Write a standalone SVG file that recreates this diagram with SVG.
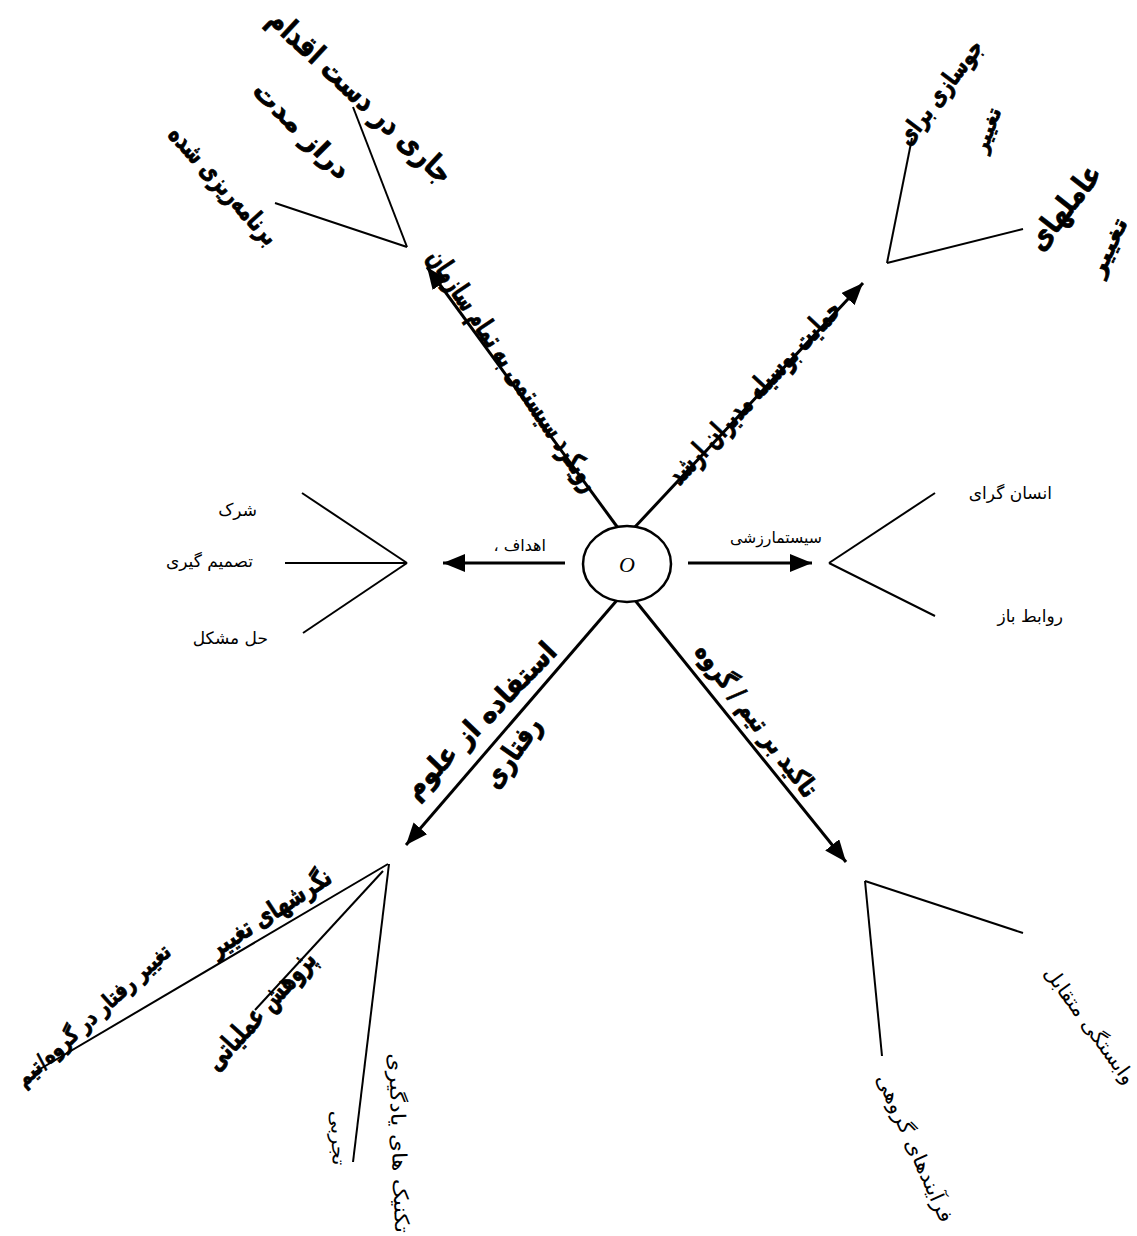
<svg xmlns="http://www.w3.org/2000/svg" width="1137" height="1236" viewBox="0 0 1137 1236">
<style>
.bg{fill:#fff}
.ln{stroke:#000;stroke-width:2;fill:none}
.ar{stroke:#000;stroke-width:3;fill:none;marker-end:url(#ah)}
.b{font-family:"DejaVu Sans",sans-serif;font-weight:bold;fill:#000;stroke:#000;stroke-width:0.8;text-anchor:middle}
.r{font-family:"DejaVu Sans",sans-serif;fill:#000}
.rm{font-family:"DejaVu Sans",sans-serif;fill:#000;text-anchor:middle}
</style>
<defs>
<marker id="ah" markerUnits="userSpaceOnUse" markerWidth="22" markerHeight="18" viewBox="0 0 22 18" refX="22" refY="9" orient="auto">
<path d="M0,0 L22,9 L0,18 z" fill="#000"/>
</marker>
</defs>
<rect class="bg" x="0" y="0" width="1137" height="1236"/>

<g id="connectors">
<line class="ar" x1="618" y1="528" x2="427" y2="267"/>
<line class="ar" x1="634" y1="528" x2="863" y2="283"/>
<line class="ar" x1="565" y1="563" x2="443" y2="563"/>
<line class="ar" x1="688" y1="563" x2="812" y2="563"/>
<line class="ar" x1="618" y1="599" x2="406" y2="845"/>
<line class="ar" x1="634" y1="599" x2="846" y2="862"/>
<text class="b" font-size="28" textLength="285" lengthAdjust="spacingAndGlyphs" dy="0.35em" transform="translate(514,370) rotate(56)">رویکرد سیستمی به تمام سازمان</text>
<text class="b" font-size="28" textLength="240" lengthAdjust="spacingAndGlyphs" dy="0.35em" transform="translate(754,392) rotate(-47)">حمایت بوسیله مدیران ارشد</text>
<text class="r" font-size="16" text-anchor="end" x="546" y="551">اهداف ،&#x200F;</text>
<text class="r" font-size="16" text-anchor="end" x="822" y="543" textLength="92" lengthAdjust="spacingAndGlyphs">سیستمارزشی</text>
<text class="b" font-size="28" textLength="205" lengthAdjust="spacingAndGlyphs" dy="0.35em" transform="translate(480,720) rotate(-46)">استفاده از علوم</text>
<text class="b" font-size="28" textLength="80" lengthAdjust="spacingAndGlyphs" dy="0.35em" transform="translate(512,752) rotate(-55)">رفتاری</text>
<text class="b" font-size="26" textLength="185" lengthAdjust="spacingAndGlyphs" dy="0.35em" transform="translate(757,720) rotate(53)">تاکید بر تیم / گروه</text>
</g>

<g id="node-center">
<ellipse cx="627" cy="564" rx="44" ry="38" fill="#fff" stroke="#000" stroke-width="2.5"/>
<text x="627" y="572" font-family="Liberation Serif, serif" font-style="italic" font-size="22" text-anchor="middle">O</text>
</g>

<g id="node-top-left">
<line class="ln" x1="407" y1="247" x2="353" y2="107"/>
<line class="ln" x1="407" y1="247" x2="275" y2="203"/>
<text class="b" font-size="30" textLength="240" lengthAdjust="spacingAndGlyphs" dy="0.35em" transform="translate(361,96) rotate(43)">جاری در دست اقدام</text>
<text class="b" font-size="26" textLength="125" lengthAdjust="spacingAndGlyphs" dy="0.35em" transform="translate(302,130) rotate(45)">دراز مدت</text>
<text class="b" font-size="26" textLength="150" lengthAdjust="spacingAndGlyphs" dy="0.35em" transform="translate(224,185) rotate(48)">برنامه‌ریزی شده</text>
</g>

<g id="node-top-right">
<line class="ln" x1="887" y1="263" x2="912" y2="138"/>
<line class="ln" x1="887" y1="263" x2="1023" y2="229"/>
<text class="b" font-size="24" textLength="125" lengthAdjust="spacingAndGlyphs" dy="0.35em" transform="translate(940,92) rotate(-53)">جوسازی برای</text>
<text class="b" font-size="20" textLength="46" lengthAdjust="spacingAndGlyphs" dy="0.35em" transform="translate(987,130) rotate(-70)">تغییر</text>
<text class="b" font-size="30" textLength="100" lengthAdjust="spacingAndGlyphs" dy="0.35em" transform="translate(1064,207) rotate(-52)">عاملهای</text>
<text class="b" font-size="22" textLength="62" lengthAdjust="spacingAndGlyphs" dy="0.35em" transform="translate(1108,247) rotate(-65)">تغییر</text>
</g>

<g id="node-left">
<line class="ln" x1="407" y1="563" x2="302" y2="493"/>
<line class="ln" x1="407" y1="563" x2="285" y2="563"/>
<line class="ln" x1="407" y1="563" x2="303" y2="633"/>
<text class="r" font-size="17" text-anchor="end" x="257" y="516">شرک</text>
<text class="r" font-size="17" text-anchor="end" x="253" y="567">تصمیم گیری</text>
<text class="r" font-size="17" text-anchor="end" x="268" y="644">حل مشکل</text>
</g>

<g id="node-right">
<line class="ln" x1="829" y1="563" x2="935" y2="493"/>
<line class="ln" x1="829" y1="563" x2="935" y2="616"/>
<text class="r" font-size="17" text-anchor="end" x="1052" y="499">انسان گرای</text>
<text class="r" font-size="17" text-anchor="end" x="1063" y="622">روابط باز</text>
</g>

<g id="node-bottom-left">
<line class="ln" x1="388" y1="864" x2="35" y2="1072"/>
<line class="ln" x1="383" y1="871" x2="255" y2="1010"/>
<line class="ln" x1="389" y1="864" x2="353" y2="1162"/>
<text class="b" font-size="26" textLength="140" lengthAdjust="spacingAndGlyphs" dy="0.35em" transform="translate(270,912) rotate(-33)">نگرشهای تغییر</text>
<text class="b" font-size="22" textLength="200" lengthAdjust="spacingAndGlyphs" dy="0.35em" transform="translate(93,1015) rotate(-42)">تغییر رفتار در گروه/تیم</text>
<text class="b" font-size="28" textLength="150" lengthAdjust="spacingAndGlyphs" dy="0.35em" transform="translate(260,1010) rotate(-48)">پژوهش عملیاتی</text>
<text class="rm" font-size="20" textLength="180" lengthAdjust="spacingAndGlyphs" dy="0.35em" transform="translate(399,1143) rotate(88)">تکنیک های یادگیری</text>
<text class="rm" font-size="18" textLength="55" lengthAdjust="spacingAndGlyphs" dy="0.35em" transform="translate(338,1138) rotate(88)">تجربی</text>
</g>

<g id="node-bottom-right">
<line class="ln" x1="865" y1="881" x2="1023" y2="933"/>
<line class="ln" x1="865" y1="881" x2="882" y2="1056"/>
<text class="rm" font-size="20" textLength="160" lengthAdjust="spacingAndGlyphs" dy="0.35em" transform="translate(915,1148) rotate(66)">فرآیندهای گروهی</text>
<text class="rm" font-size="20" textLength="140" lengthAdjust="spacingAndGlyphs" dy="0.35em" transform="translate(1090,1025) rotate(54)">وابستگی متقابل</text>
</g>
</svg>
